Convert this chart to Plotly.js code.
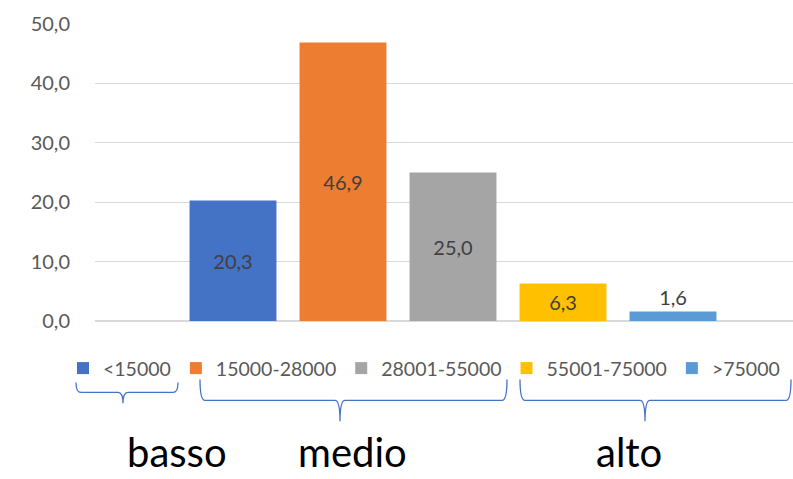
<!DOCTYPE html>
<html>
<head>
<meta charset="utf-8">
<script src="https://cdn.plot.ly/plotly-3.0.1.min.js"></script>
<style>
  html, body { margin: 0; padding: 0; background: #fff; }
  #chart { width: 793px; height: 479px; }
</style>
</head>
<body>
<div id="chart"></div>
<script>
// Income bands and their share (%)
const bands = ['<15000', '15000-28000', '28001-55000', '55001-75000', '>75000'];
const shares = [20.3, 46.9, 25.0, 6.3, 1.6];
const bandColors = ['#4472C4', '#ED7D31', '#A5A5A5', '#FFC000', '#5B9BD5'];
const labelPositions = ['inside', 'inside', 'inside', 'inside', 'outside'];

// Income groups shown under the legend
const groupNames = ['basso', 'medio', 'alto'];

const W = 793, H = 479;
const M = { l: 95, r: 0, t: 24, b: 157.5, autoexpand: false };
const plotW = W - M.l - M.r, plotH = H - M.t - M.b;
const px = x => (x - M.l) / plotW;
const py = y => (H - M.b - y) / plotH;

const FONT = 'Lato, "Open Sans", sans-serif';

const traces = bands.map((b, i) => ({
  type: 'bar',
  name: b,
  x: [i],
  y: [shares[i]],
  width: 0.79,
  marker: { color: bandColors[i], line: { width: 0 } },
  texttemplate: '%{y:.1f}',
  textposition: labelPositions[i],
  insidetextanchor: 'middle',
  constraintext: 'none',
  cliponaxis: false,
  textfont: { family: FONT, size: 20, color: '#404040' },
  hoverinfo: 'skip'
}));

// Curly braces grouping the legend entries (pixel geometry)
const braces = [
  { x0: 76, x1: 178, top: 383, bot: 393, tip: 404, xc: 123 },
  { x0: 200, x1: 507, top: 380, bot: 401, tip: 422, xc: 340 },
  { x0: 520, x1: 791, top: 380, bot: 401, tip: 422, xc: 645 }
];
const groupLabelX = [177, 352, 629];

function bracePath(b) {
  const r = 5, c = 5;
  const P = (x, y) => px(x).toFixed(5) + ',' + py(y).toFixed(5);
  return 'M' + P(b.x0, b.top) +
    ' Q' + P(b.x0, b.bot) + ' ' + P(b.x0 + r, b.bot) +
    ' L' + P(b.xc - c, b.bot) +
    ' Q' + P(b.xc, b.bot) + ' ' + P(b.xc, b.tip) +
    ' Q' + P(b.xc, b.bot) + ' ' + P(b.xc + c, b.bot) +
    ' L' + P(b.x1 - r, b.bot) +
    ' Q' + P(b.x1, b.bot) + ' ' + P(b.x1, b.top);
}

const shapes = braces.map(b => ({
  type: 'path',
  xref: 'paper', yref: 'paper',
  path: bracePath(b),
  line: { color: '#4472C4', width: 1.3 }
}));

const annotations = groupNames.map((g, i) => ({
  text: g,
  xref: 'paper', yref: 'paper',
  x: px(groupLabelX[i]), y: py(453),
  xanchor: 'center', yanchor: 'middle',
  showarrow: false,
  font: { family: FONT, size: 40, color: '#000000' }
}));

const layout = {
  width: W, height: H,
  margin: M,
  paper_bgcolor: '#ffffff',
  plot_bgcolor: '#ffffff',
  separators: ',.',
  barmode: 'overlay',
  showlegend: true,
  legend: {
    orientation: 'h',
    xref: 'paper', yref: 'paper',
    x: px(63), xanchor: 'left',
    y: py(369), yanchor: 'middle',
    traceorder: 'normal',
    font: { family: FONT, size: 19.5, color: '#595959' },
    bgcolor: 'rgba(0,0,0,0)'
  },
  xaxis: {
    range: [-138 / 110, 4 + 120 / 110],
    showticklabels: false,
    showgrid: false,
    zeroline: false,
    showline: false,
    ticks: '',
    fixedrange: true
  },
  yaxis: {
    range: [0, 50],
    dtick: 10,
    tickformat: '.1f',
    showgrid: true,
    gridcolor: '#D9D9D9',
    gridwidth: 1.3,
    zeroline: true,
    zerolinecolor: '#D9D9D9',
    zerolinewidth: 1.3,
    showline: false,
    ticks: 'outside',
    ticklen: 20,
    tickcolor: 'rgba(0,0,0,0)',
    tickfont: { family: FONT, size: 20, color: '#595959' },
    fixedrange: true
  },
  shapes: shapes,
  annotations: annotations
};

Plotly.newPlot('chart', traces, layout, { staticPlot: true, displayModeBar: false });
</script>
</body>
</html>
